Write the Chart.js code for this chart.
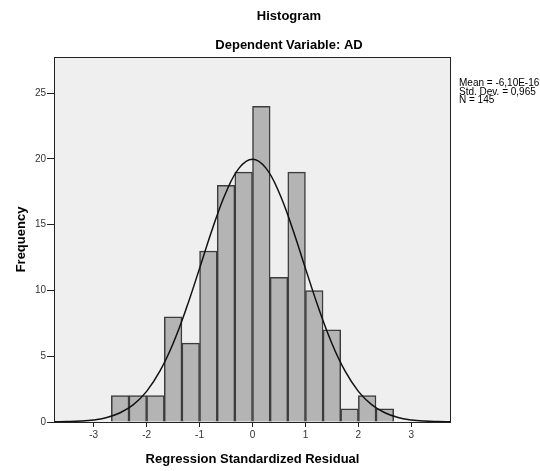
<!DOCTYPE html>
<html>
<head>
<meta charset="utf-8">
<script src="https://cdn.jsdelivr.net/npm/chart.js@4.4.1/dist/chart.umd.min.js"></script>
<style>
  html, body { margin: 0; padding: 0; background: #fff; }
  #wrap { width: 540px; height: 471px; }
</style>
</head>
<body>
<div id="wrap"><canvas id="hist"></canvas></div>
<script>
// Histogram bins (centres, width 1/3) and counts
var binCenters = [-2.5, -2.1667, -1.8333, -1.5, -1.1667, -0.8333, -0.5, -0.1667,
                  0.1667, 0.5, 0.8333, 1.1667, 1.5, 1.8333, 2.1667, 2.5];
var binCounts = [2, 2, 2, 8, 6, 13, 18, 19, 24, 11, 19, 10, 7, 1, 2, 1];

// Normal curve
var curveX = [-3.75, -3.5, -3.25, -3, -2.75, -2.5, -2.25, -2, -1.75, -1.5, -1.25, -1, -0.75, -0.5, -0.25,
              0, 0.25, 0.5, 0.75, 1, 1.25, 1.5, 1.75, 2, 2.25, 2.5, 2.75, 3, 3.25, 3.5, 3.75];
var curveY = [0.01, 0.03, 0.07, 0.16, 0.34, 0.70, 1.32, 2.33, 3.86, 5.97, 8.64, 11.68, 14.77, 17.47, 19.32,
              19.98, 19.32, 17.47, 14.77, 11.68, 8.64, 5.97, 3.86, 2.33, 1.32, 0.70, 0.34, 0.16, 0.07, 0.03, 0.01];

// Axis ticks
var xTicks = [-3, -2, -1, 0, 1, 2, 3];
var yTicks = [0, 5, 10, 15, 20, 25];

var titleLines = ['Histogram', 'Dependent Variable: AD'];
var statsLines = ['Mean = -6,10E-16', 'Std. Dev. = 0,965', 'N = 145'];

var barData = binCenters.map(function(c, i){ return {x: c, y: binCounts[i]}; });
var curveData = curveX.map(function(c, i){ return {x: c, y: curveY[i]}; });

// Plot background, frame, titles and stats box
var decorations = {
  id: 'decorations',
  beforeDatasetsDraw: function(chart){
    var ctx = chart.ctx, a = chart.chartArea;
    ctx.save();
    ctx.fillStyle = '#efefef';
    ctx.fillRect(a.left, a.top, a.right - a.left, a.bottom - a.top);
    ctx.restore();
  },
  afterDraw: function(chart){
    var ctx = chart.ctx, a = chart.chartArea;
    ctx.save();
    ctx.strokeStyle = '#222';
    ctx.lineWidth = 1;
    ctx.strokeRect(a.left + 0.5, a.top + 0.5, a.right - a.left - 1, a.bottom - a.top);
    ctx.fillStyle = '#000';
    ctx.textAlign = 'center';
    ctx.textBaseline = 'middle';
    ctx.font = 'bold 13px "Liberation Sans", Arial, sans-serif';
    ctx.fillText(titleLines[0], 289, 16);
    ctx.fillText(titleLines[1], 289, 45);
    ctx.textAlign = 'left';
    ctx.font = '10px "Liberation Sans", Arial, sans-serif';
    for (var i = 0; i < statsLines.length; i++) {
      ctx.fillText(statsLines[i], 459, 83.5 + i * 8.5);
    }
    ctx.restore();
  }
};

new Chart(document.getElementById('hist'), {
  data: {
    datasets: [
      {
        type: 'line',
        data: curveData,
        borderColor: '#111',
        borderWidth: 1.5,
        pointRadius: 0,
        tension: 0.4,
        fill: false,
        order: 0
      },
      {
        type: 'bar',
        data: barData,
        backgroundColor: '#b4b4b4',
        borderColor: '#3c3c3c',
        borderWidth: 1.5,
        barPercentage: 1,
        categoryPercentage: 1,
        grouped: false,
        order: 1
      }
    ]
  },
  options: {
    responsive: true,
    maintainAspectRatio: false,
    animation: false,
    layout: { padding: { top: 57, right: 89, bottom: 0, left: 0 } },
    plugins: { legend: { display: false }, tooltip: { enabled: false } },
    scales: {
      x: {
        type: 'linear',
        min: -3.75,
        max: 3.75,
        offset: false,
        afterBuildTicks: function(s){ s.ticks = xTicks.map(function(v){ return {value: v}; }); },
        afterFit: function(s){ s.height = 49; },
        grid: { offset: false, drawOnChartArea: false, drawTicks: true, tickLength: 5, color: '#222' },
        border: { display: false },
        ticks: { color: '#333', font: { size: 10, family: '"Liberation Sans", Arial' }, padding: 2 },
        title: {
          display: true,
          text: 'Regression Standardized Residual',
          color: '#000',
          font: { size: 13, weight: 'bold', family: '"Liberation Sans", Arial' },
          padding: { top: 0, bottom: 4 }
        }
      },
      y: {
        type: 'linear',
        min: 0,
        max: 27.75,
        afterBuildTicks: function(s){ s.ticks = yTicks.map(function(v){ return {value: v}; }); },
        afterFit: function(s){ s.width = 54; },
        grid: { drawOnChartArea: false, drawTicks: true, tickLength: 7, color: '#222' },
        border: { display: false },
        ticks: { color: '#333', font: { size: 10, family: '"Liberation Sans", Arial' }, padding: 1 },
        title: {
          display: true,
          text: 'Frequency',
          color: '#000',
          font: { size: 13, weight: 'bold', family: '"Liberation Sans", Arial' },
          padding: { top: 14, bottom: 0 }
        }
      }
    }
  },
  plugins: [decorations]
});
</script>
</body>
</html>
